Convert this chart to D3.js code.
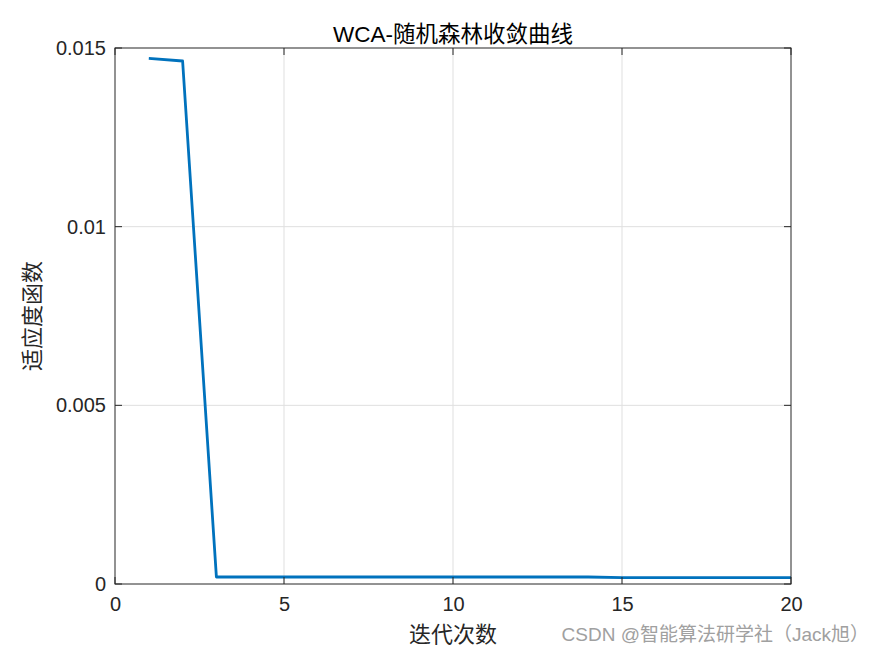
<!DOCTYPE html>
<html><head><meta charset="utf-8">
<script src="https://cdn.jsdelivr.net/npm/d3@7/dist/d3.min.js"></script>
<style>body{margin:0;background:#fff}svg{display:block}</style>
</head><body>
<script>
const iterations = [1,2,3,4,5,6,7,8,9,10,11,12,13,14,15,16,17,18,19,20];
const fitness = [0.01471,0.014636,0.000196,0.000196,0.000196,0.000196,0.000196,0.000196,0.000196,0.000196,0.000196,0.000196,0.000196,0.000196,0.000180,0.000180,0.000180,0.000180,0.000180,0.000180];
const xTicks = [0,5,10,15,20];
const yTicks = [0,0.005,0.01,0.015];
const yTickLabels = ["0","0.005","0.01","0.015"];
const titleText = "WCA-随机森林收敛曲线";
const xLabelText = "迭代次数";
const yLabelText = "适应度函数";
const watermark = "CSDN @智能算法研学社（Jack旭）";

const W=875,H=656;
const m={l:115,r:791,t:48,b:584};
const svg=d3.select("body").append("svg").attr("width",W).attr("height",H);
const x=d3.scaleLinear().domain([0,20]).range([m.l,m.r]);
const y=d3.scaleLinear().domain([0,0.015]).range([m.b,m.t]);
const font="Arial, 'Liberation Sans', sans-serif";

// grid
svg.append("g").selectAll("line.gx").data(xTicks.slice(1,-1)).join("line")
 .attr("x1",d=>x(d)).attr("x2",d=>x(d)).attr("y1",m.t).attr("y2",m.b)
 .attr("stroke","#dfdfdf").attr("stroke-width",1);
svg.append("g").selectAll("line.gy").data(yTicks.slice(1,-1)).join("line")
 .attr("y1",d=>y(d)).attr("y2",d=>y(d)).attr("x1",m.l).attr("x2",m.r)
 .attr("stroke","#dfdfdf").attr("stroke-width",1);

// line
svg.append("path").datum(iterations.map((d,i)=>[d,fitness[i]]))
 .attr("d",d3.line().x(d=>x(d[0])).y(d=>y(d[1])))
 .attr("fill","none").attr("stroke","#0072BD").attr("stroke-width",2.8).attr("stroke-linejoin","round");

// box
svg.append("rect").attr("x",m.l).attr("y",m.t).attr("width",m.r-m.l).attr("height",m.b-m.t)
 .attr("fill","none").attr("stroke","#262626").attr("stroke-width",1);

// axes
const xa=svg.append("g").attr("transform",`translate(0,${m.b})`)
 .call(d3.axisBottom(x).tickValues(xTicks).tickSize(0).tickPadding(13).tickFormat(d3.format("d")));
xa.select(".domain").remove();
xa.selectAll("text").attr("font-family",font).attr("fill","#262626");
const ya=svg.append("g").attr("transform",`translate(${m.l},0)`)
 .call(d3.axisLeft(y).tickValues(yTicks).tickSize(0).tickPadding(9).tickFormat((d,i)=>yTickLabels[i]));
ya.select(".domain").remove();
ya.selectAll("text").attr("font-family",font).attr("fill","#262626");
svg.selectAll(".tick text").style("font-size","20px");

// tick marks inside
const tk=svg.append("g").attr("stroke","#262626").attr("stroke-width",1);
xTicks.forEach(d=>{
 tk.append("line").attr("x1",x(d)).attr("x2",x(d)).attr("y1",m.b).attr("y2",m.b-7);
 tk.append("line").attr("x1",x(d)).attr("x2",x(d)).attr("y1",m.t).attr("y2",m.t+7);
});
yTicks.forEach(d=>{
 tk.append("line").attr("y1",y(d)).attr("y2",y(d)).attr("x1",m.l).attr("x2",m.l+7);
 tk.append("line").attr("y1",y(d)).attr("y2",y(d)).attr("x1",m.r).attr("x2",m.r-7);
});

const cjk="'Noto Sans CJK SC', sans-serif";
svg.append("text").attr("x",(m.l+m.r)/2).attr("y",42).attr("text-anchor","middle")
 .attr("font-family",font+", 'Noto Sans CJK SC'").style("font-size","22.5px").attr("fill","#000").text(titleText);
svg.append("text").attr("x",(m.l+m.r)/2).attr("y",642).attr("text-anchor","middle")
 .attr("font-family",cjk).style("font-size","22px").attr("fill","#262626").text(xLabelText);
svg.append("text").attr("transform",`translate(40,${(m.t+m.b)/2}) rotate(-90)`).attr("text-anchor","middle")
 .attr("font-family",cjk).style("font-size","22px").attr("fill","#262626").text(yLabelText);
svg.append("text").attr("x",869).attr("y",641).attr("text-anchor","end")
 .attr("font-family",font+", 'Noto Sans CJK SC'").style("font-size","19px").attr("fill","#a0a0a0").text(watermark);
</script>
</body></html>
